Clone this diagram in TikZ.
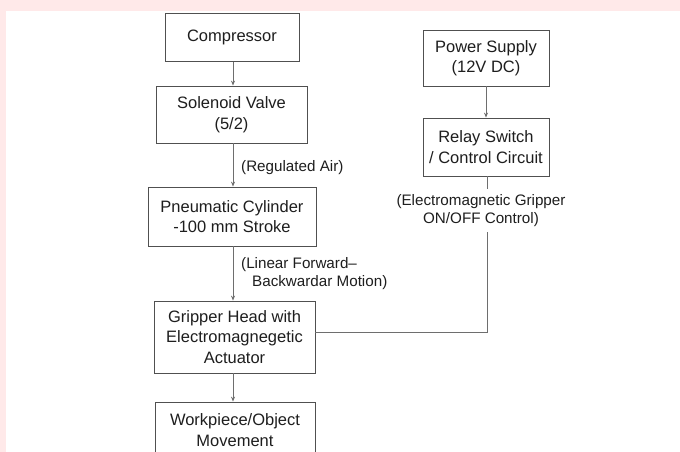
\documentclass[tikz,border=0pt]{standalone}
\usepackage{fontspec}
\setmainfont{Liberation Sans}
\usetikzlibrary{arrows.meta}
\definecolor{pinkbg}{RGB}{255,233,233}
\definecolor{txt}{RGB}{30,30,30}
\definecolor{edge}{RGB}{80,80,80}
\definecolor{wire}{RGB}{110,110,110}
\begin{document}
\begin{tikzpicture}[x=1pt,y=-1pt,
  box/.style={draw=edge, line width=0.8pt, fill=white, text=txt, align=center,
    inner sep=0pt, font=\fontsize{16.5}{20.5}\selectfont},
  lbl/.style={text=txt, inner sep=0pt, font=\fontsize{15.2}{18}\selectfont},
  conn/.style={draw=wire, line width=0.8pt},
  arr/.style={conn, -{Stealth[length=5pt,width=4pt]}}]
\useasboundingbox (0,0) rectangle (680,452);
\fill[white] (0,0) rectangle (680,452);
\fill[pinkbg] (0,0) rectangle (680,11);
\fill[pinkbg] (0,0) rectangle (6,452);

\node[box, minimum width=134pt, minimum height=48pt] (comp) at (232,37.5) {Compressor};
\node[box, minimum width=151pt, minimum height=57pt] (sol) at (231.5,114.5) {Solenoid Valve\\(5/2)};
\node[box, minimum width=168pt, minimum height=59pt] (pneu) at (232,216.5) {Pneumatic Cylinder\\-100 mm Stroke};
\node[box, minimum width=161pt, minimum height=72pt] (grip) at (234.5,337) {Gripper Head with\\Electromagnegetic\\Actuator};
\node[box, minimum width=160pt, minimum height=56pt] (work) at (235,430) {Workpiece/Object\\Movement};
\node[box, minimum width=126pt, minimum height=56pt] (power) at (486,58) {Power Supply\\(12V DC)};
\node[box, minimum width=126pt, minimum height=58pt] (relay) at (486,147) {Relay Switch\\/ Control Circuit};

\coordinate (c1) at (233,0);
\draw[arr] (comp.south -| c1) -- (sol.north -| c1);
\draw[arr] (sol.south -| c1) -- (pneu.north -| c1);
\draw[arr] (pneu.south -| c1) -- (grip.north -| c1);
\draw[arr] (grip.south -| c1) -- (work.north -| c1);
\draw[arr] (power.south) -- (relay.north);

\coordinate (jn) at (487,332);
\draw[conn] (relay.south -| jn) -- (jn) -- (grip.east |- jn);

\node[lbl, anchor=west] (l1) at (241,168) {(Regulated Air)};
\node[lbl, anchor=north west, align=left] (l2) at (241,257) {(Linear Forward--\\\hspace*{11pt}Backwardar Motion)};
\node[lbl, fill=white, align=center, inner xsep=1pt, inner ysep=5pt] (l3) at (481,210.5) {(Electromagnetic Gripper\\ON/OFF Control)};
\end{tikzpicture}
\end{document}
